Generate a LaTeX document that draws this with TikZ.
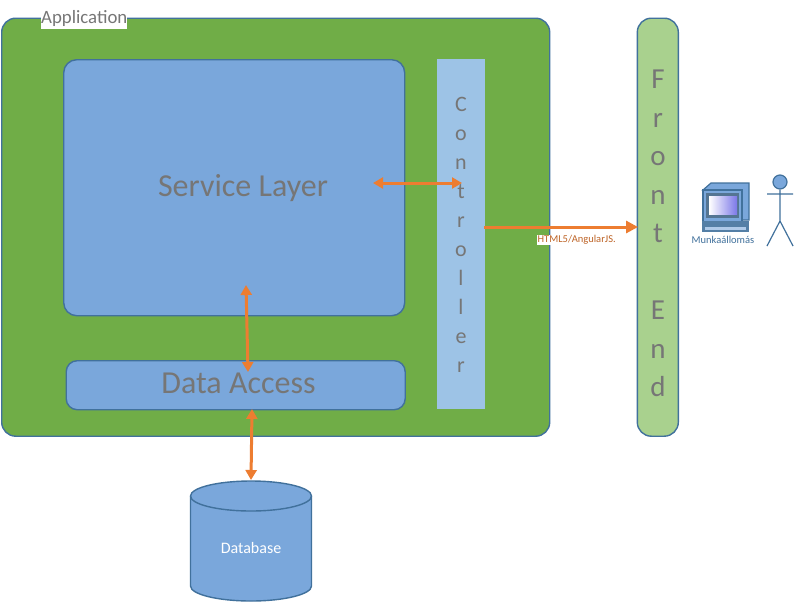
\documentclass[tikz,border=0pt]{standalone}
\usepackage{fontspec}
\setmainfont{Carlito}
\usetikzlibrary{arrows.meta}
\definecolor{appgreen}{HTML}{70AD47}
\definecolor{edgeblue}{HTML}{41719C}
\definecolor{layerblue}{HTML}{7AA7DB}
\definecolor{ctrlblue}{HTML}{9DC3E6}
\definecolor{frontgreen}{HTML}{A9D18E}
\definecolor{arrowor}{HTML}{ED7D31}
\definecolor{greytext}{HTML}{767676}
\definecolor{screenblue}{HTML}{7C78E8}
\tikzset{
  panel/.style={draw=edgeblue,line width=1.4pt,rounded corners=#1,inner sep=0pt,anchor=north west},
  biarrow/.style={draw=arrowor,line width=3pt,{Triangle[length=10pt,width=11pt]}-{Triangle[length=10pt,width=11pt]}},
  oneway/.style={draw=arrowor,line width=3pt,-{Triangle[length=12pt,width=12pt]}},
  layertext/.style={text=greytext,font=\fontsize{32}{38}\selectfont},
  iconline/.style={draw=edgeblue,line width=1.2pt},
}
\begin{document}
\begin{tikzpicture}[x=1pt,y=-1pt]
\useasboundingbox (0,0) rectangle (795,603);
\fill[white] (0,0) rectangle (795,603);
\node[panel=14pt,fill=appgreen,minimum width=548pt,minimum height=418pt] (app) at (1,17.5) {};
\node[fill=white,inner sep=0pt,minimum width=86pt,minimum height=19pt,anchor=north west] (applabelbg) at (41,10) {};
\node[text=greytext,font=\fontsize{18.8}{22}\selectfont,anchor=west,inner sep=0pt] (applabel) at (41,18.5) {Application};
\node[panel=13pt,fill=layerblue,minimum width=341pt,minimum height=256pt] (svc) at (63,59) {};
\node[layertext] (svclabel) at (243,188) {Service Layer};
\node[panel=11pt,fill=layerblue,minimum width=339pt,minimum height=49pt] (da) at (65.5,360) {};
\node[layertext] (dalabel) at (238.5,383) {Data Access};
\node[fill=ctrlblue,inner sep=0pt,minimum width=48pt,minimum height=350pt,anchor=north west] (ctrl) at (437,59) {};
\node[text=greytext,inner sep=0pt,align=center,font=\fontsize{22}{29}\selectfont] (ctrllabel) at (461,235) {C\\o\\n\\t\\r\\o\\l\\l\\e\\r};
\node[panel=14pt,fill=frontgreen,minimum width=41pt,minimum height=418pt] (fe) at (636.6,17.5) {};
\node[text=greytext,inner sep=0pt,align=center,font=\fontsize{29}{38.5}\selectfont] (felabel) at (658,233.5) {F\\r\\o\\n\\t\\[38.5pt]E\\n\\d};
% database cylinder
\node[inner sep=0pt,minimum width=121pt,minimum height=121pt] (db) at (251,541) {};
\draw[edgeblue,line width=1.4pt,fill=layerblue] (190.5,496) arc[start angle=180,end angle=360,x radius=60.5,y radius=15] -- (311.5,586) arc[start angle=0,end angle=180,x radius=60.5,y radius=15] -- cycle;
\draw[edgeblue,line width=1.4pt] (190.5,496) arc[start angle=180,end angle=0,x radius=60.5,y radius=15];
\node[text=white,font=\fontsize{16}{19}\selectfont] (dblabel) at (251,548) {Database};
\coordinate (s1) at (373,183); \coordinate (s2) at (462,183);
\draw[biarrow] (s1) -- (s2);
\coordinate (d1) at (246,285); \coordinate (d2) at (248,372);
\draw[biarrow] (d1) -- (d2);
\coordinate (b1) at (252,409); \coordinate (b2) at (251,480);
\draw[biarrow] (b1) -- (b2);
\coordinate (c1) at (484,227); \coordinate (c2) at (638,227);
\draw[oneway] (c1) -- (c2);
\node[fill=white,inner sep=0.5pt,text=arrowor!80!black,font=\fontsize{10.5}{12}\selectfont,anchor=north west] (html) at (537,235) {HTML5/AngularJS.};
% workstation icon
\fill[layerblue,draw=edgeblue,line width=1.2pt] (703,190) -- (711,183) -- (749,183) -- (749,220) -- (741,220) -- (741,190) -- cycle;
\fill[layerblue,draw=edgeblue,line width=1.2pt] (703,190) rectangle (742,222);
\fill[edgeblue!70!gray] (706,193) rectangle (739,218);
\shade[left color=white,right color=screenblue] (709,196) rectangle (737,214);
\fill[edgeblue!90!white] (702,221) rectangle (749,232);
\fill[layerblue!60!white] (705,227) rectangle (746,230);
\node[text=edgeblue,font=\fontsize{10.5}{12}\selectfont] (ws) at (723,240) {Munkaállomás};
% stick figure
\node[circle,draw=edgeblue,line width=1.2pt,fill=layerblue,minimum size=14pt,inner sep=0pt] (head) at (780,182) {};
\coordinate (hip) at (780,221);
\coordinate (armL) at (767,194); \coordinate (armR) at (793,194);
\coordinate (legL) at (767,246); \coordinate (legR) at (793,246);
\draw[iconline] (head) -- (hip) (armL) -- (armR) (legL) -- (hip) -- (legR);
\end{tikzpicture}
\end{document}
